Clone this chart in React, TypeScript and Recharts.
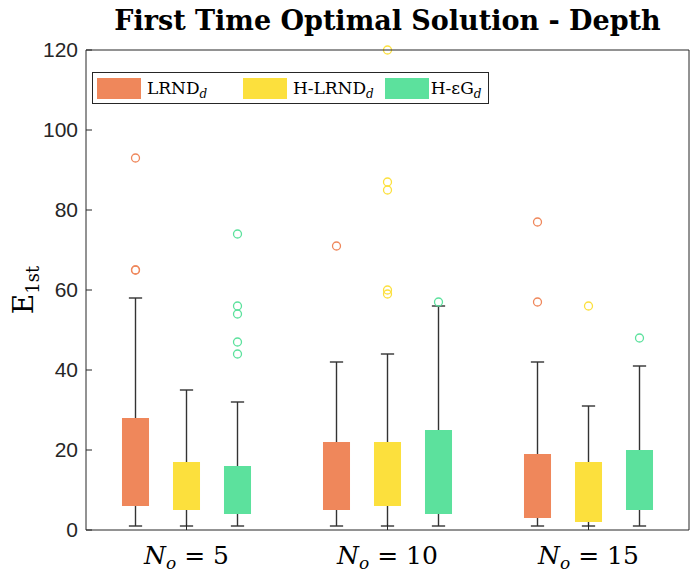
import React from 'react';
import { ComposedChart, Bar, XAxis, YAxis, Legend } from 'recharts';

const groups = [5, 10, 15];
const seriesNames = ['LRND', 'H-LRND', 'H-\u03b5G'];
const seriesColors = ['#EF875B', '#FCE03D', '#5CE19D'];
const yTicks = [0, 20, 40, 60, 80, 100, 120];

// [lower whisker, q1, q3, upper whisker] for each N_o group
const lrndStats = [[1, 6, 28, 58], [1, 5, 22, 42], [1, 3, 19, 42]];
const hlrndStats = [[1, 5, 17, 35], [1, 6, 22, 44], [1, 2, 17, 31]];
const hegStats = [[1, 4, 16, 32], [1, 4, 25, 56], [1, 5, 20, 41]];

const lrndOutliers = [[93, 65, 65], [71], [77, 57]];
const hlrndOutliers = [[], [120, 87, 85, 60, 59], [56]];
const hegOutliers = [[74, 56, 54, 47, 44], [57], [48]];

const allStats = [lrndStats, hlrndStats, hegStats];
const allOutliers = [lrndOutliers, hlrndOutliers, hegOutliers];

const data = groups.map((g, i) => ({
  group: g,
  stats: allStats.map((s) => s[i]),
  outliers: allOutliers.map((o) => o[i]),
}));

const AXIS = '#262626';
const WHISKER = '#333333';
const legendItemWidths = [147, 143, 100];

// one box with whiskers and outliers, drawn in the rectangle that the range bar [min, max] gets
const BoxShape = (props: any) => {
  const { x, y, width, height, payload, idx } = props;
  const [lo, q1, q3, hi] = payload.stats[idx];
  const top = Math.min(y, y + height);
  const bottom = Math.max(y, y + height);
  const k = (bottom - top) / (hi - lo);
  const py = (v: number) => bottom - (v - lo) * k;
  const cx = x + width / 2;
  const bw = width * 0.53;
  const cw = width * 0.26;
  const color = seriesColors[idx];
  return (
    <g>
      <line x1={cx} x2={cx} y1={py(hi)} y2={py(lo)} stroke={WHISKER} strokeWidth={1.4} />
      <line x1={cx - cw / 2} x2={cx + cw / 2} y1={py(hi)} y2={py(hi)} stroke={WHISKER} strokeWidth={1.4} />
      <line x1={cx - cw / 2} x2={cx + cw / 2} y1={py(lo)} y2={py(lo)} stroke={WHISKER} strokeWidth={1.4} />
      <rect x={cx - bw / 2} y={py(q3)} width={bw} height={py(q1) - py(q3)} fill={color} />
      {payload.outliers[idx].map((v: number, j: number) => (
        <circle key={j} cx={cx} cy={py(v)} r={4} fill="none" stroke={color} strokeWidth={1.3} />
      ))}
    </g>
  );
};

const GroupTick = (props: any) => {
  const { x, y, payload } = props;
  return (
    <text x={x} y={y + 34} textAnchor="middle" fontFamily="DejaVu Serif" fontSize={25} fill="#000">
      <tspan fontStyle="italic">N</tspan>
      <tspan fontStyle="italic" fontSize={17} dy={5}>o</tspan>
      <tspan dy={-5}>{` = ${payload.value}`}</tspan>
    </text>
  );
};

const YLabel = (props: any) => {
  const { viewBox } = props;
  const lx = viewBox.x + 33;
  const ly = viewBox.y + viewBox.height / 2;
  return (
    <text x={lx} y={ly} transform={`rotate(-90, ${lx}, ${ly})`} textAnchor="middle" fontFamily="DejaVu Serif" fontSize={28} fill="#000">
      E<tspan fontSize={18} dy={6}>1st</tspan>
    </text>
  );
};

const LegendBox = () => (
  <div
    style={{
      display: 'flex',
      alignItems: 'center',
      border: `1px solid ${AXIS}`,
      background: '#fff',
      height: 32,
      width: 397,
      boxSizing: 'border-box',
      padding: '0 4px',
      fontFamily: 'DejaVu Serif',
      fontSize: 17,
      color: '#000',
    }}
  >
    {seriesNames.map((n, i) => (
      <div key={n} style={{ display: 'flex', alignItems: 'center', width: legendItemWidths[i] }}>
        <span style={{ display: 'inline-block', width: 44, height: 21, background: seriesColors[i], marginRight: i === 2 ? 2 : 6 }} />
        <span style={{ whiteSpace: 'nowrap' }}>
          {n}
          <i style={{ fontSize: 12, position: 'relative', top: 4 }}>d</i>
        </span>
      </div>
    ))}
  </div>
);

export default function App() {
  return (
    <div style={{ position: 'absolute', left: 0, top: 0, width: 690, height: 572, background: '#fff' }}>
      <div
        style={{
          position: 'absolute',
          left: 0,
          top: 5,
          width: 775,
          textAlign: 'center',
          fontFamily: 'DejaVu Serif',
          fontWeight: 'bold',
          fontSize: 27,
          color: '#000',
        }}
      >
        First Time Optimal Solution - Depth
      </div>
      <ComposedChart width={690} height={572} data={data} margin={{ top: 49, right: 0, bottom: 0, left: 0 }} barGap={0} barSize={51}>
        <XAxis
          dataKey="group"
          type="category"
          height={42}
          stroke={AXIS}
          tickSize={-6}
          tickMargin={6}
          tick={<GroupTick />}
        />
        <XAxis xAxisId="top" dataKey="group" type="category" orientation="top" height={1} stroke={AXIS} tickSize={-6} tick={false} />
        <YAxis
          type="number"
          domain={[0, 120]}
          ticks={yTicks}
          width={86}
          stroke={AXIS}
          tickSize={-6}
          tickMargin={14}
          tick={{ fill: AXIS, fontSize: 21, fontFamily: 'Liberation Sans' }}
          label={{ content: <YLabel /> }}
        />
        <YAxis yAxisId="right" orientation="right" type="number" domain={[0, 120]} ticks={yTicks} width={1} stroke={AXIS} tickSize={-6} tick={false} />
        <Legend
          layout="horizontal"
          verticalAlign="middle"
          content={<LegendBox />}
          wrapperStyle={{ top: 72, left: 92, width: 397, height: 32 }}
        />
        {seriesNames.map((n, i) => (
          <Bar
            key={n}
            name={n}
            dataKey={(d: any) => [d.stats[i][0], d.stats[i][3]]}
            fill={seriesColors[i]}
            isAnimationActive={false}
            shape={(p: any) => <BoxShape {...p} idx={i} />}
          />
        ))}
      </ComposedChart>
    </div>
  );
}
